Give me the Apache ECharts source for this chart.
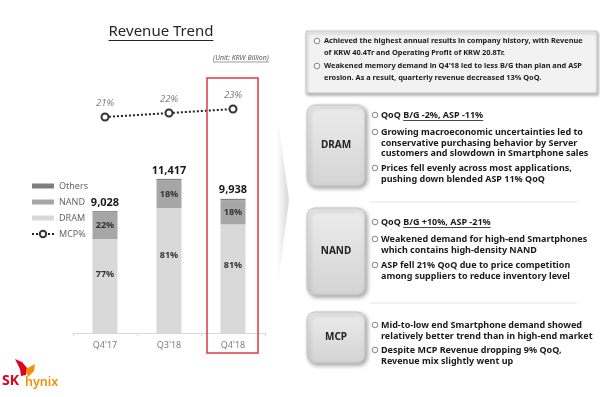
<!DOCTYPE html>
<html><head><meta charset="utf-8">
<script src="https://cdn.jsdelivr.net/npm/echarts/dist/echarts.min.js"></script>
<style>html,body{margin:0;padding:0;background:#fff}#c{width:600px;height:397px}</style>
</head><body><div id="c"></div>
<script>
// ---- data ----
const categories = ["Q4'17", "Q3'18", "Q4'18"];
const revenueTotals = [9028, 11417, 9938];
const dramShare = [77, 81, 81];
const nandShare = [22, 18, 18];
const othersShare = [1, 1, 1];
const mcpShare = [21, 22, 23];
const legendNames = ['Others', 'NAND', 'DRAM', 'MCP%'];

const summaryLines = [
  ['Achieved the highest annual results in company history, with Revenue', 'of KRW 40.4Tr and Operating Profit of KRW 20.8Tr.'],
  ['Weakened memory demand in Q4\'18 led to less B/G than plan and ASP', 'erosion. As a result, quarterly revenue decreased 13% QoQ.']
];
const dramHead = ['QoQ ', 'B/G -2%, ASP -11%'];
const dramBullets = [
  ['Growing macroeconomic uncertainties led to', 'conservative purchasing behavior by Server', 'customers and slowdown in Smartphone sales'],
  ['Prices fell evenly across most applications,', 'pushing down blended ASP 11% QoQ']
];
const nandHead = ['QoQ ', 'B/G +10%, ASP -21%'];
const nandBullets = [
  ['Weakened demand for high-end Smartphones', 'which contains high-density NAND'],
  ['ASP fell 21% QoQ due to price competition', 'among suppliers to reduce inventory level']
];
const mcpBullets = [
  ['Mid-to-low end Smartphone demand showed', 'relatively better trend than in high-end market'],
  ['Despite MCP Revenue dropping 9% QoQ,', 'Revenue mix slightly went up']
];

// ---- helpers ----
const FONT = '"Noto Sans", "Open Sans", "DejaVu Sans", sans-serif';
const mctx = document.createElement('canvas').getContext('2d');
function tw(text, size, weight, style) {
  mctx.font = `${style || 'normal'} ${weight || 'normal'} ${size}px ${FONT}`;
  return mctx.measureText(text).width;
}
const G = [];
function txt(x, y, text, o) {
  o = o || {};
  G.push({ type: 'text', x: x, y: y, z: 20, silent: true,
    style: { text: text, fill: o.fill || '#1a1a1a',
      font: `${o.style || 'normal'} ${o.weight || 'bold'} ${o.size || 9}px ${FONT}`,
      align: o.align || 'left', verticalAlign: 'middle' } });
}
function hline(x1, x2, y, color, w) {
  G.push({ type: 'line', z: 20, silent: true, shape: { x1: x1, y1: y, x2: x2, y2: y },
    style: { stroke: color, lineWidth: w || 1 } });
}
function bullet(cx, cy) {
  G.push({ type: 'circle', z: 20, silent: true, shape: { cx: cx, cy: cy, r: 2.8 },
    style: { fill: '#fff', stroke: '#666', lineWidth: 0.8 } });
}
function sideBox(y, h, label) {
  G.push({ type: 'rect', z: 5, silent: true, shape: { x: 307, y: y, width: 58, height: h, r: 8 },
    style: { fill: new echarts.graphic.LinearGradient(0, 0, 0, 1, [{ offset: 0, color: '#ececec' }, { offset: 1, color: '#d4d4d4' }]),
      stroke: '#c4c4c4', lineWidth: 1, shadowBlur: 4, shadowOffsetX: 2, shadowOffsetY: 2, shadowColor: 'rgba(0,0,0,0.35)' } });
  txt(336, y + h / 2, label, { size: 10, align: 'center', fill: '#222' });
}

// ---- left decorations ----
const titleW = tw('Revenue Trend', 15, 'normal');
txt(161, 32, 'Revenue Trend', { size: 15, weight: 'normal', align: 'center', fill: '#262626' });
hline(161 - titleW / 2, 161 + titleW / 2, 40.5, '#262626', 1);
const unitW = tw('(Unit: KRW Billion)', 7, 'normal', 'italic');
txt(241, 58, '(Unit: KRW Billion)', { size: 7, weight: 'normal', style: 'italic', align: 'center', fill: '#595959' });
hline(241 - unitW / 2, 241 + unitW / 2, 62, '#595959', 0.6);
G.push({ type: 'rect', z: 30, silent: true, shape: { x: 207, y: 78, width: 51, height: 275 },
  style: { fill: 'none', stroke: '#e0393e', lineWidth: 1.5 } });
G.push({ type: 'polygon', z: 1, silent: true, shape: { points: [[277, 112], [289, 200], [277, 290]] },
  style: { fill: new echarts.graphic.LinearGradient(0, 0, 1, 0, [{ offset: 0, color: '#ffffff' }, { offset: 1, color: '#d6d6d6' }]) } });

// logo
G.push({ type: 'polygon', z: 20, silent: true, shape: { points: [[15, 359], [22, 362], [27, 368], [26, 375], [21, 376], [20, 369]] }, style: { fill: '#e3001b' } });
G.push({ type: 'polygon', z: 20, silent: true, shape: { points: [[26, 369], [35, 364], [34, 371], [28, 377]] }, style: { fill: '#f39200' } });
txt(2, 381, 'SK', { size: 14, weight: 'bold', fill: '#e3001b' });
txt(25, 382, 'hynix', { size: 12.5, weight: '600', fill: '#f39200' });

// ---- right panel ----
G.push({ type: 'rect', z: 5, silent: true, shape: { x: 306, y: 31, width: 291, height: 62 },
  style: { fill: '#f2f2f2', stroke: '#c8c8c8', lineWidth: 1, shadowBlur: 3, shadowOffsetX: 1, shadowOffsetY: 2, shadowColor: 'rgba(0,0,0,0.3)' } });
const topY = [[41, 53], [66, 78]];
summaryLines.forEach(function (lines, i) {
  bullet(317, topY[i][0]);
  lines.forEach(function (l, j) { txt(324, topY[i][j], l, { size: 7.4 }); });
});

sideBox(105, 81, 'DRAM');
sideBox(208, 87, 'NAND');
sideBox(312, 51, 'MCP');
hline(370, 577, 202, '#e3e3e3', 1);
hline(370, 577, 303, '#e3e3e3', 1);

const BX = 375, TX = 381, FS = 9;
function head(y, parts) {
  bullet(BX, y);
  txt(TX, y, parts[0] + parts[1], { size: FS });
  const w0 = tw(parts[0], FS, 'bold'), w1 = tw(parts[1], FS, 'bold');
  hline(TX + w0, TX + w0 + w1, y + 5.5, '#1a1a1a', 0.8);
}
function block(ys, groups) {
  let k = 0;
  groups.forEach(function (lines) {
    bullet(BX, ys[k]);
    lines.forEach(function (l) { txt(TX, ys[k], l, { size: FS }); k++; });
  });
}
head(115, dramHead);
block([132, 143, 153, 168, 179], dramBullets);
head(222, nandHead);
block([239, 250, 265, 276], nandBullets);
block([325, 336, 350, 361], mcpBullets);

// ---- chart ----
const barIcon = 'path://M0,0h44v10h-44z';
const chart = echarts.init(document.getElementById('c'), null, { renderer: 'canvas' });
chart.setOption({
  animation: false,
  textStyle: { fontFamily: FONT },
  grid: { left: 73, width: 192, top: 90, height: 243 },
  legend: {
    data: [{ name: 'Others', icon: barIcon }, { name: 'NAND', icon: barIcon }, { name: 'DRAM', icon: barIcon }, { name: 'MCP%' }],
    orient: 'vertical', left: 26, top: 175, itemWidth: 22, itemHeight: 8, itemGap: 4, selectedMode: false,
    textStyle: { fontSize: 9, color: '#666', lineHeight: 12, fontFamily: FONT }
  },
  xAxis: {
    type: 'category', data: categories,
    axisLine: { lineStyle: { color: '#d9d9d9', width: 1 } },
    axisTick: { show: true, length: 3, lineStyle: { color: '#d9d9d9' } },
    axisLabel: { color: '#7f7f7f', fontSize: 9, margin: 8, fontFamily: FONT }
  },
  yAxis: [
    { type: 'value', min: 0, max: 18000, show: false, splitLine: { show: false } },
    { type: 'value', min: -33, max: 27.75, show: false, splitLine: { show: false } }
  ],
  series: [
    { name: 'DRAM', type: 'bar', stack: 'rev', barWidth: 25,
      data: revenueTotals.map(function (t, i) { return t * dramShare[i] / 100; }),
      itemStyle: { color: '#d9d9d9' },
      label: { show: true, position: ['50%', '38%'], align: 'center', verticalAlign: 'middle',
        formatter: function (p) { return dramShare[p.dataIndex] + '%'; }, fontSize: 9, fontWeight: 'bold', color: '#333' } },
    { name: 'NAND', type: 'bar', stack: 'rev', barWidth: 25,
      data: revenueTotals.map(function (t, i) { return t * nandShare[i] / 100; }),
      itemStyle: { color: '#a6a6a6' },
      label: { show: true, position: 'inside',
        formatter: function (p) { return nandShare[p.dataIndex] + '%'; }, fontSize: 9, fontWeight: 'bold', color: '#333' } },
    { name: 'Others', type: 'bar', stack: 'rev', barWidth: 25,
      data: revenueTotals.map(function (t, i) { return t * othersShare[i] / 100; }),
      itemStyle: { color: '#7f7f7f' },
      label: { show: true, position: 'top', distance: 3,
        formatter: function (p) { return revenueTotals[p.dataIndex].toLocaleString('en-US'); }, fontSize: 11, fontWeight: 'bold', color: '#1a1a1a' } },
    { name: 'MCP%', type: 'line', yAxisIndex: 1, data: mcpShare,
      symbol: 'emptyCircle', symbolSize: 7,
      lineStyle: { type: 'dotted', width: 2, color: '#222' },
      itemStyle: { color: '#333', borderWidth: 1.3 },
      label: { show: true, position: 'top', distance: 4, formatter: '{c}%', fontSize: 9.5, fontStyle: 'italic', color: '#808080' } }
  ],
  graphic: { elements: G }
});
</script></body></html>
